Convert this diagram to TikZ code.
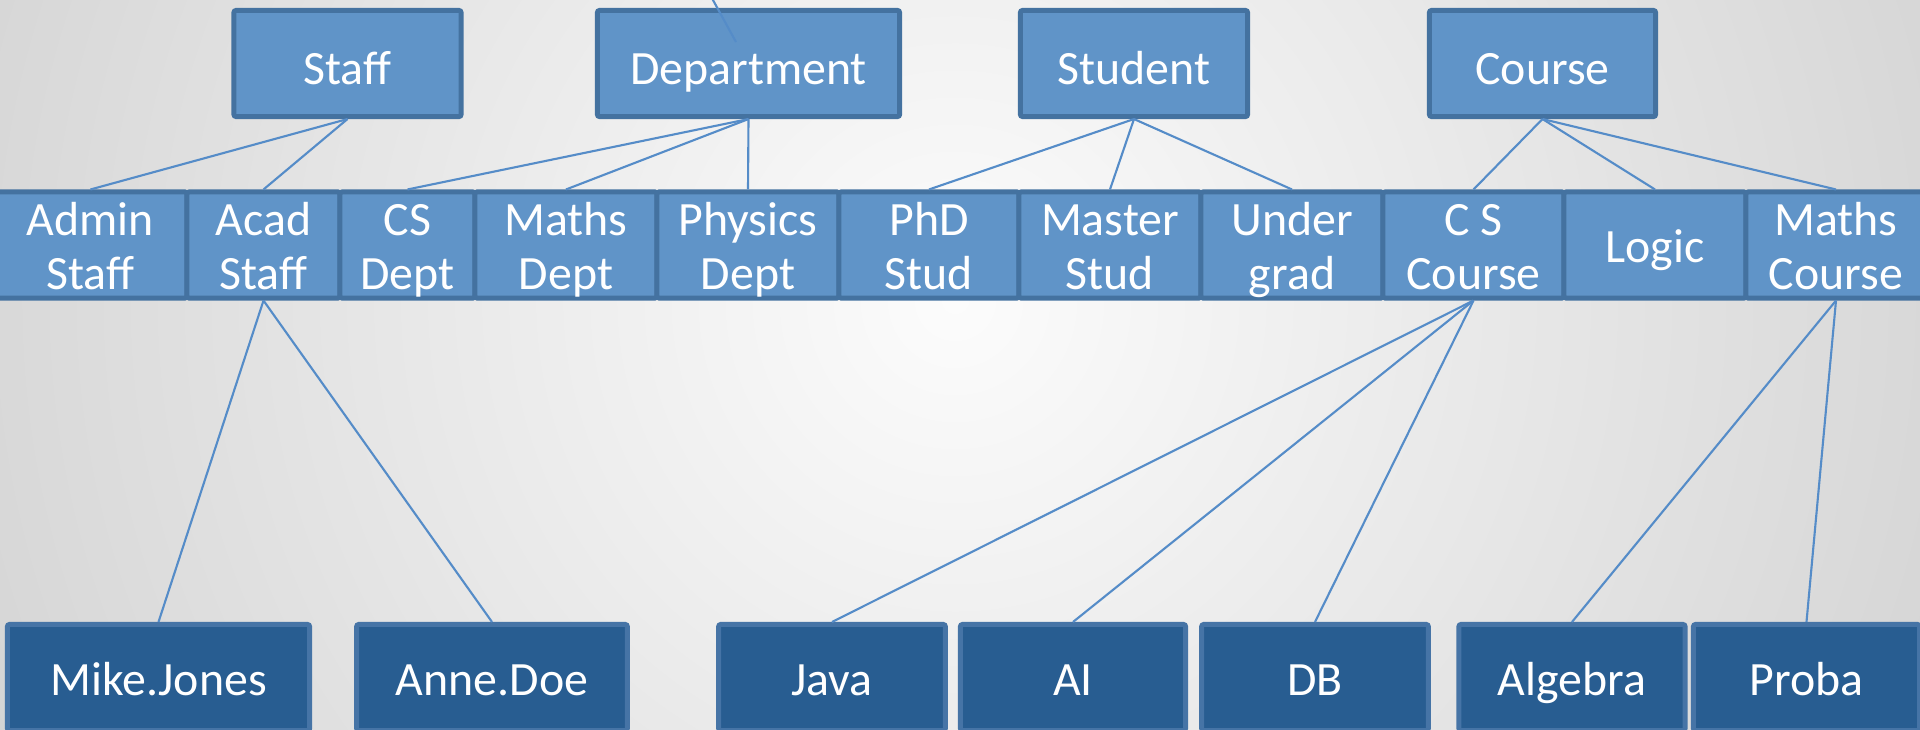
\documentclass[tikz,border=0pt]{standalone}
\usepackage{fontspec}
\setmainfont{Carlito}
\definecolor{boxfill}{RGB}{96,148,200}
\definecolor{boxedge}{RGB}{68,114,160}
\definecolor{leaffill}{RGB}{40,93,145}
\definecolor{leafedge}{RGB}{70,116,166}
\definecolor{linkblue}{RGB}{85,140,200}
\definecolor{bgin}{RGB}{252,252,252}
\definecolor{bgout}{RGB}{178,178,178}
% fixed line boxes: the words are smashed so only the strut sets the height
\newcommand\rowtxt[1]{\vrule width 0pt height 11.95pt depth 2pt\smash{#1}}
\newcommand\headtxt[1]{\vrule width 0pt height 12.5pt depth 0.8pt\smash{#1}}
\begin{document}
\begin{tikzpicture}[x=0.01cm,y=-0.01cm,
  box/.style={draw=boxedge, fill=boxfill, line width=0.05cm, rounded corners=0.6pt,
    inner sep=0pt, minimum height=1.06cm, text=white, align=center,
    font=\fontsize{13.6}{15.6}\selectfont},
  leaf/.style={box, draw=leafedge, fill=leaffill},
  link/.style={draw=linkblue, line width=0.6pt}]

% canvas with radial light falloff
\useasboundingbox (0,0) rectangle (1920,730);
\clip (0,0) rectangle (1920,730);
\fill[bgout] (0,0) rectangle (1920,730);
\shade[inner color=bgin, outer color=bgout] (955,300) circle[radius=20cm];

% top level
\node[box, minimum width=2.27cm] (staff)   at (347.5,63.5) {\headtxt{Staff}};
\node[box, minimum width=3.02cm] (dept)    at (748.5,63.5) {\headtxt{Department}};
\node[box, minimum width=2.27cm] (student) at (1134,63.5)  {\headtxt{Student}};
\node[box, minimum width=2.26cm] (course)  at (1542.5,63.5){\headtxt{Course}};

% middle level
\node[box, minimum width=1.93cm] (admin)   at (90.5,245)  {\rowtxt{Admin}\\\rowtxt{Staff}};
\node[box, minimum width=1.53cm] (acad)    at (263.5,245) {\rowtxt{Acad}\\\rowtxt{Staff}};
\node[box, minimum width=1.35cm] (csd)     at (407.5,245) {\rowtxt{CS}\\\rowtxt{Dept}};
\node[box, minimum width=1.82cm] (mathsd)  at (566,245)   {\rowtxt{Maths}\\\rowtxt{Dept}};
\node[box, minimum width=1.82cm] (physd)   at (748,245)   {\rowtxt{Physics}\\\rowtxt{Dept}};
\node[box, minimum width=1.80cm] (phd)     at (929,245)   {\rowtxt{PhD}\\\rowtxt{Stud}};
\node[box, minimum width=1.82cm] (master)  at (1110,245)  {\rowtxt{Master}\\\rowtxt{Stud}};
\node[box, minimum width=1.82cm] (under)   at (1292,245)  {\rowtxt{Under}\\\rowtxt{grad}};
\node[box, minimum width=1.81cm] (csc)     at (1473.5,245){\rowtxt{C S}\\\rowtxt{Course}};
\node[box, minimum width=1.82cm] (logic)   at (1655,245)  {\rowtxt{Logic}};
\node[box, minimum width=1.80cm] (mathsc)  at (1836,245)  {\rowtxt{Maths}\\\rowtxt{Course}};

% bottom level
\node[leaf, minimum width=3.02cm]  (mike)    at (158.5,677.5) {\rowtxt{Mike.Jones}};
\node[leaf, minimum width=2.705cm] (anne)    at (492,677.5)   {\rowtxt{Anne.Doe}};
\node[leaf, minimum width=2.265cm] (java)    at (832,677.5)   {\rowtxt{Java}};
\node[leaf, minimum width=2.25cm]  (ai)      at (1073,677.5)  {\rowtxt{AI}};
\node[leaf, minimum width=2.265cm] (db)      at (1315,677.5)  {\rowtxt{DB}};
\node[leaf, minimum width=2.26cm]  (algebra) at (1572,677.5)  {\rowtxt{Algebra}};
\node[leaf, minimum width=2.26cm]  (proba)   at (1806.5,677.5){\rowtxt{Proba}};

% connectors
\draw[link] (staff.south) -- (admin.north);
\draw[link] (staff.south) -- (acad.north);
\draw[link] (dept.south) -- (csd.north);
\draw[link] (dept.south) -- (mathsd.north);
\draw[link] (dept.south) -- (physd.north);
\draw[link] (student.south) -- (phd.north);
\draw[link] (student.south) -- (master.north);
\draw[link] (student.south) -- (under.north);
\draw[link] (course.south) -- (csc.north);
\draw[link] (course.south) -- (logic.north);
\draw[link] (course.south) -- (mathsc.north);
\draw[link] (acad.south) -- (mike.north);
\draw[link] (acad.south) -- (anne.north);
\draw[link] (csc.south) -- (java.north);
\draw[link] (csc.south) -- (ai.north);
\draw[link] (csc.south) -- (db.north);
\draw[link] (mathsc.south) -- (algebra.north);
\draw[link] (mathsc.south) -- (proba.north);

% link entering the department box from above
\coordinate (above) at (702,-20);
\coordinate (deptin) at (736,42);
\draw[link] (above) -- (deptin);
\end{tikzpicture}
\end{document}
